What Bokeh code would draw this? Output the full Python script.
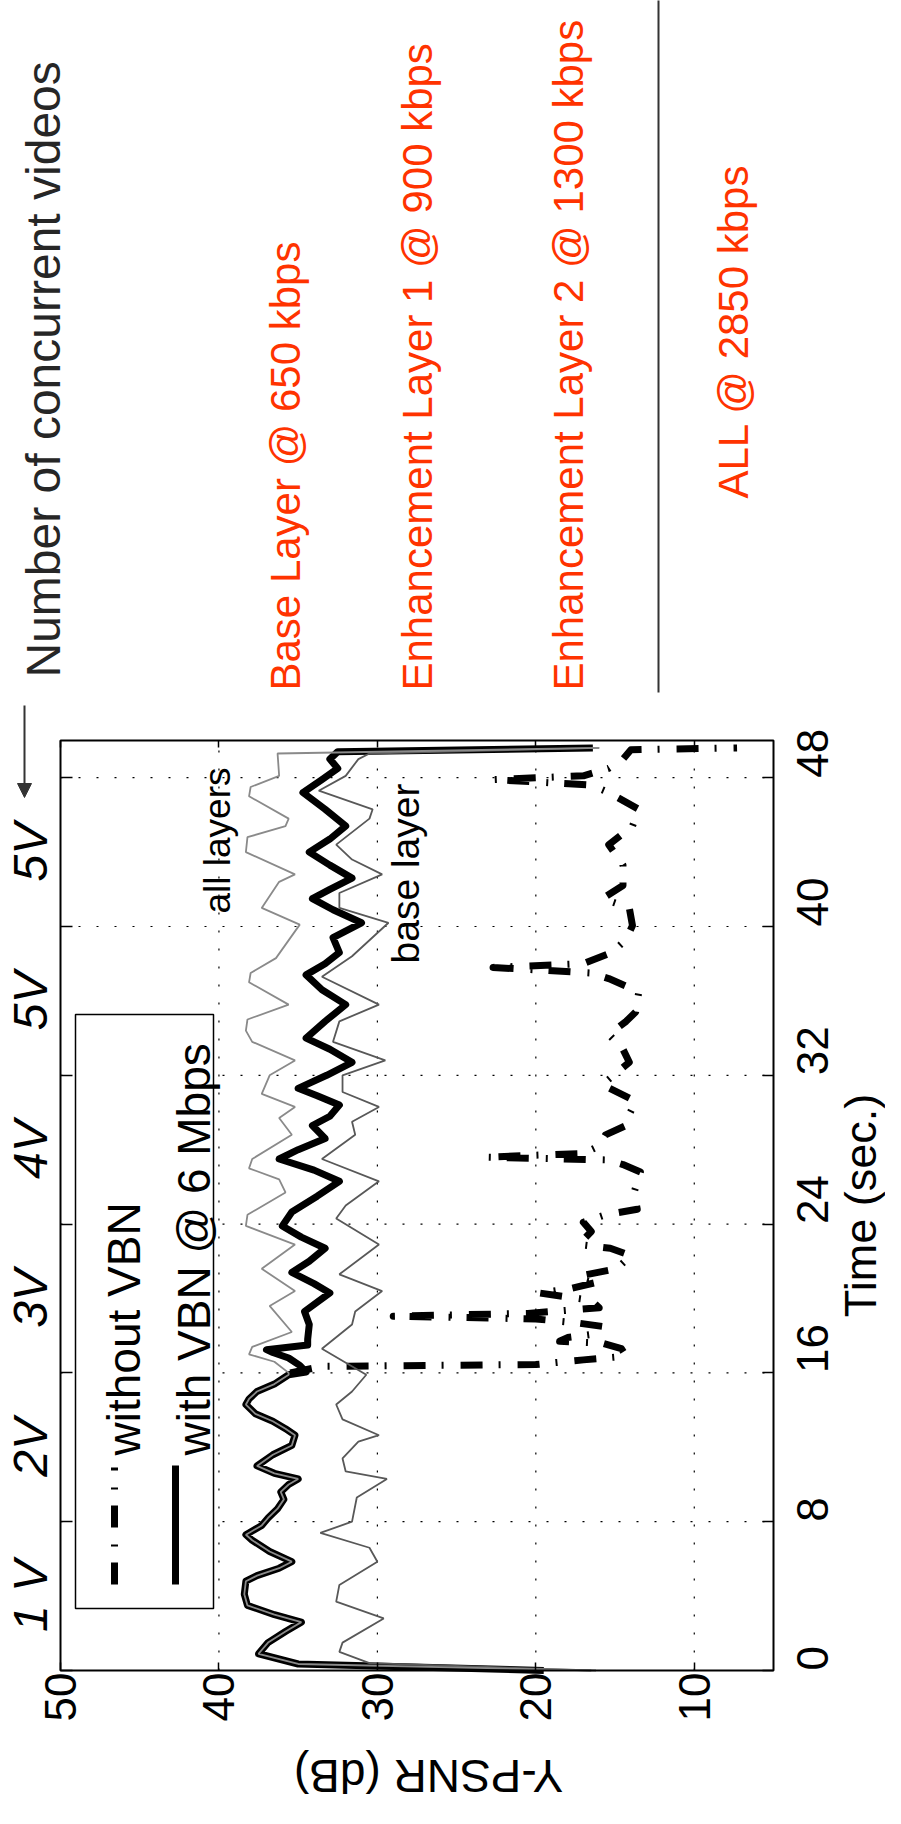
import math
from bokeh.plotting import figure
from bokeh.models import Range1d, LinearAxis, FixedTicker, Label, Arrow, NormalHead
from bokeh.embed import file_html
from bokeh.resources import INLINE

# ---------------- data ----------------
psnr_ticks = [50, 40, 30, 20, 10]
time_ticks = [0, 8, 16, 24, 32, 40, 48]

t_with_vbn = [0.0, 0.35, 0.9, 1.5, 2.1, 2.6, 3.0, 3.5, 4.1, 4.8, 5.1, 5.5, 5.85, 6.4, 7.0,
              7.3, 7.8, 8.2, 8.7, 9.2, 9.6, 10.0, 10.3, 10.6, 11.0, 11.6, 12.1, 12.65,
              13.0, 13.4, 13.8, 14.3, 14.6, 15.0, 15.4, 15.9, 16.05, 16.4, 16.8, 17.1,
              17.25, 17.5, 17.8, 18.6, 19.3, 20.3, 20.8, 21.4, 22.0, 22.7, 23.3, 23.9,
              24.65, 25.5, 26.3, 26.9, 27.5, 28.0, 28.6, 29.3, 29.8, 30.4, 30.9, 31.3,
              32.0, 32.7, 33.4, 34.0, 34.9, 35.8, 36.6, 37.4, 38.0, 38.6, 39.4, 40.2,
              40.9, 41.5, 42.0, 42.6, 43.3, 44.0, 44.7, 45.4, 46.3, 47.2, 47.9, 48.5,
              49.0, 49.4, 49.6]
psnr_with_vbn = [19.5, 35.0, 37.5, 36.9, 35.8, 34.8, 36.5, 38.2, 38.4, 38.3, 37.6, 36.2,
                 35.4, 36.8, 37.9, 38.3, 37.3, 36.9, 36.3, 35.9, 36.1, 35.6, 35.0, 36.5,
                 37.6, 36.6, 35.4, 35.2, 35.8, 36.6, 37.7, 38.3, 38.1, 37.6, 36.5, 35.6,
                 34.5, 34.9, 35.6, 36.6, 37.0, 34.4, 34.4, 34.3, 34.6, 33.0, 34.0, 35.4,
                 34.3, 33.3, 34.8, 36.0, 35.4, 33.8, 32.4, 34.0, 36.2, 35.0, 33.3, 34.1,
                 33.0, 32.4, 33.8, 35.0, 33.2, 31.6, 33.0, 34.5, 33.3, 32.0, 33.5, 34.5,
                 33.3, 32.4, 32.8, 31.0, 32.8, 34.1, 33.0, 31.6, 33.0, 34.3, 33.0, 32.0,
                 33.3, 34.7, 33.5, 32.5, 33.0, 32.5, 16.4]

t_without_vbn = [16.0, 16.35, 16.45, 16.7, 16.9, 17.3, 17.6, 17.7, 17.9, 18.1, 18.5, 18.7,
                 18.9, 19.05, 19.2, 19.5, 19.9, 20.3, 20.5, 20.9, 21.2, 21.6, 22.3, 22.7,
                 22.9, 23.6, 24.1, 24.5, 24.8, 25.7, 26.8, 27.2, 27.45, 27.6, 27.8, 28.2,
                 28.8, 29.3, 29.9, 30.6, 31.5, 32.7, 33.4, 34.2, 34.9, 35.4, 36.5, 37.2,
                 37.5, 37.8, 38.0, 38.6, 39.3, 40.05, 41.0, 41.5, 42.2, 43.3, 44.4, 45.4,
                 46.3, 47.2, 47.6, 47.9, 48.1, 48.5, 49.0, 49.5, 49.6]
psnr_without_vbn = [35.5, 33.5, 20.0, 17.0, 14.3, 14.6, 15.8, 18.5, 18.0, 16.2, 15.8, 17.5,
                    20.0, 29.0, 20.5, 16.0, 16.5, 19.8, 18.0, 16.0, 17.3, 14.9, 14.0, 15.3,
                    17.3, 16.5, 17.0, 15.6, 13.6, 13.8, 13.4, 14.5, 15.5, 23.2, 17.0, 16.0,
                    15.6, 14.3, 14.1, 13.7, 15.8, 14.1, 14.5, 15.4, 14.3, 13.7, 13.5, 15.4,
                    16.5, 22.7, 17.0, 15.2, 14.3, 13.9, 14.1, 15.8, 14.5, 14.5, 15.4, 13.9,
                    13.5, 15.4, 16.5, 22.7, 17.0, 15.4, 14.5, 14.0, 7.3]

t_all_layers = [0.0, 0.35, 0.9, 1.5, 2.1, 2.6, 3.0, 3.5, 4.1, 4.8, 5.1, 5.5, 5.85, 6.4,
                7.0, 7.3, 7.8, 8.2, 8.7, 9.2, 9.6, 10.0, 10.3, 10.6, 11.0, 11.6, 12.1,
                12.65, 13.0, 13.4, 13.8, 14.3, 14.6, 15.0, 15.4, 15.9, 16.0, 16.6, 17.0,
                17.4, 18.2, 19.6, 20.4, 21.6, 22.9, 23.9, 24.5, 25.7, 26.4, 27.0, 27.5,
                28.8, 29.7, 30.3, 31.0, 32.0, 32.8, 33.8, 34.4, 35.0, 35.8, 37.0, 37.5,
                38.3, 40.1, 41.0, 42.4, 42.8, 44.0, 44.8, 45.4, 45.8, 47.0, 47.5, 48.1,
                49.3, 49.6]
psnr_all_layers = [16.2, 35.0, 37.5, 36.9, 35.8, 34.8, 36.5, 38.2, 38.4, 38.3, 37.6, 36.2,
                   35.4, 36.8, 37.9, 38.3, 37.3, 36.9, 36.3, 35.9, 36.1, 35.6, 35.0, 36.5,
                   37.6, 36.6, 35.4, 35.2, 35.8, 36.6, 37.7, 38.3, 38.1, 37.6, 36.5, 35.6,
                   35.6, 36.5, 38.1, 37.9, 35.4, 36.8, 35.2, 37.3, 35.2, 38.3, 38.2, 35.8,
                   36.2, 38.1, 37.9, 35.4, 36.2, 35.2, 37.3, 36.8, 35.2, 37.9, 38.3, 38.2,
                   35.6, 38.1, 38.0, 36.4, 34.9, 37.3, 36.2, 35.2, 38.3, 38.2, 35.8, 35.6,
                   38.1, 38.0, 36.2, 36.3, 16.0]

t_base_layer = [0.0, 0.4, 1.0, 1.5, 2.8, 3.7, 4.6, 5.85, 6.6, 7.4, 8.0, 9.3, 10.3, 10.7,
                11.4, 12.3, 12.65, 13.5, 14.3, 15.0, 15.9, 17.3, 18.6, 19.3, 20.4, 21.3,
                22.9, 24.3, 25.0, 26.3, 27.5, 28.8, 29.5, 30.3, 31.1, 32.0, 32.8, 33.8,
                34.9, 35.8, 37.3, 38.4, 40.2, 41.0, 41.8, 42.8, 43.6, 44.4, 45.8, 46.3,
                47.3, 48.1, 49.0, 49.3, 49.6]
psnr_base_layer = [16.5, 30.5, 32.4, 32.2, 29.6, 32.6, 32.4, 30.0, 30.5, 33.6, 31.6, 31.3,
                   29.4, 32.0, 32.2, 31.2, 29.9, 32.2, 32.6, 31.6, 30.7, 33.5, 31.6, 31.4,
                   29.7, 32.4, 29.9, 32.6, 32.0, 29.9, 33.5, 31.4, 31.6, 29.9, 32.2, 32.2,
                   29.5, 32.8, 32.4, 29.9, 33.5, 31.6, 29.3, 32.4, 32.4, 29.7, 31.6, 32.6,
                   30.5, 30.3, 33.7, 32.0, 31.2, 30.5, 16.0]

video_labels = ["1 V", "2V", "3V", "4V", "5V", "5V"]
video_label_times = [4, 12, 20, 28, 36, 44]

layer_texts = ["Base Layer @ 650 kbps", "Enhancement Layer 1 @ 900 kbps",
               "Enhancement Layer 2 @ 1300 kbps"]
all_text = "ALL @ 2850 kbps"

# ---------------- layout helpers (page pixel -> data) ----------------
FL, FR, FT, FB = 68, 781, 748, 1678          # chart box on the page
X0, X1, T0, T1 = 50.0, 5.0, 0.0, 50.0        # chart box in data units
W, H = 885, 1808


def X(px):
    return X0 + (px - FL) * (X1 - X0) / (FR - FL)


def T(py):
    return T0 + (FB - py) * (T1 - T0) / (FB - FT)


FONT = "Liberation Sans"
UP = math.pi / 2
DX = -7   # baseline correction for rotated labels
DY = 8    # start correction for rotated left-aligned labels

p = figure(width=W, height=H, x_range=Range1d(X(8), X(8 + W)), y_range=Range1d(T(8 + H), T(8)),
           output_backend="svg", toolbar_location=None, y_axis_location="right",
           min_border_left=0, min_border_right=0, min_border_top=0, min_border_bottom=0,
           outline_line_color=None, background_fill_color="white",
           border_fill_color="white")
p.title.visible = False

# axes drawn at the edges of the chart box
bottom_ax, right_ax = p.xaxis[0], p.yaxis[0]
bottom_ax.fixed_location = T0
right_ax.fixed_location = X1
for ax, ticks, tin in ((bottom_ax, psnr_ticks, 8), (right_ax, time_ticks, 11)):
    ax.ticker = FixedTicker(ticks=ticks)
    ax.major_tick_in = tin
    ax.major_tick_out = 0
    ax.minor_tick_line_color = None
    ax.axis_line_color = None
    ax.major_tick_line_color = "black"
    ax.major_tick_line_width = 1.5
    ax.major_label_orientation = UP
    ax.major_label_text_font = FONT
    ax.major_label_text_font_size = "44px"
    ax.major_label_text_color = "black"
bottom_ax.major_label_standoff = 2
right_ax.major_label_standoff = 39

top = LinearAxis(ticker=FixedTicker(ticks=psnr_ticks), major_tick_in=7, major_tick_out=0,
                 minor_tick_line_color=None, axis_line_color=None, fixed_location=T1,
                 major_label_text_color=None, major_tick_line_width=1.5)
left = LinearAxis(ticker=FixedTicker(ticks=time_ticks), major_tick_in=12, major_tick_out=0,
                  minor_tick_line_color=None, axis_line_color=None, fixed_location=X0,
                  major_label_text_color=None, major_tick_line_width=1.5)
p.add_layout(top, "above")
p.add_layout(left, "left")

p.xgrid.visible = False
p.ygrid.visible = False

# dotted grid inside the chart box
gx = [v for v in psnr_ticks if X1 < v < X0]
gt = [v for v in time_ticks if T0 < v < T1]
p.segment(x0=gx, y0=[T0] * len(gx), x1=gx, y1=[T1] * len(gx), line_color="black",
          line_dash="2 16", line_width=1.2)
p.segment(x0=[X0] * len(gt), y0=gt, x1=[X1] * len(gt), y1=gt, line_color="black",
          line_dash="2 16", line_width=1.2)

# series
p.line(psnr_without_vbn, t_without_vbn, line_color="black", line_width=7,
       line_dash="22 16 2 17", line_cap="butt", line_join="round")
p.line(psnr_with_vbn, t_with_vbn, line_color="black", line_width=7, line_join="round")
p.line(psnr_base_layer, t_base_layer, line_color="#585858", line_width=1.8)
p.line(psnr_all_layers, t_all_layers, line_color="#8a8a8a", line_width=1.8)

# chart box
p.quad(left=X0, right=X1, bottom=T0, top=T1, fill_color=None, line_color="black",
       line_width=2)


def vlabel(px, py, text, size, color="black", align="left", style="normal", angle=UP):
    p.add_layout(Label(x=X(px), y=T(py), text=text, angle=angle, text_font=FONT,
                       text_font_size=size, text_color=color, text_align=align,
                       text_font_style=style, text_baseline="alphabetic"))


# in-plot labels
vlabel(232 + DX, 913 + DY, "all layers", "37px")
vlabel(420 + DX, 963 + DY, "base layer", "39px")

# legend (drawn rotated like the picture)
p.quad(left=X(83), right=X(221), top=T(1022), bottom=T(1616), fill_color="white",
       line_color="black", line_width=1.5)
p.line([X(122), X(122)], [T(1592), T(1475)], line_color="black", line_width=7,
       line_dash="22 16 2 17", line_cap="butt")
p.line([X(183), X(183)], [T(1592), T(1473)], line_color="black", line_width=7)
vlabel(138 + DX, 1455 + DY, "without VBN", "46px")
vlabel(208 + DX, 1455 + DY, "with VBN @ 6 Mbps", "46px")

# axis titles
vlabel(875 + DX, 1213, "Time (sec.)", "45px", align="center")
vlabel(436, 1783, "Y-PSNR (dB)", "46px", align="center", angle=math.pi)

# number of videos labels
for lab, tv in zip(video_labels, video_label_times):
    p.add_layout(Label(x=X(45 + DX), y=tv, text=lab, angle=UP, text_font=FONT,
                       text_font_style="italic", text_font_size="48px",
                       text_color="black", text_align="center",
                       text_baseline="alphabetic"))

p.add_layout(Arrow(end=NormalHead(size=14, fill_color="#333333", line_color="#333333"),
                   x_start=X(32), y_start=T(713), x_end=X(32), y_end=T(805),
                   line_color="#333333", line_width=2))
vlabel(58 + DX, 677 + DY, "Number of concurrent videos", "48px", color="#262626")

# layer rate texts
for txt, bx in zip(layer_texts, [300, 432, 583]):
    vlabel(bx + DX, 690 + DY, txt, "42px", color="#ff3300")
p.segment(x0=[X(666)], y0=[T(4)], x1=[X(666)], y1=[T(700)], line_color="#333333",
          line_width=2)
vlabel(748 + DX, 498 + DY, all_text, "42px", color="#ff3300")

open("out.html", "w").write(file_html(p, INLINE))
